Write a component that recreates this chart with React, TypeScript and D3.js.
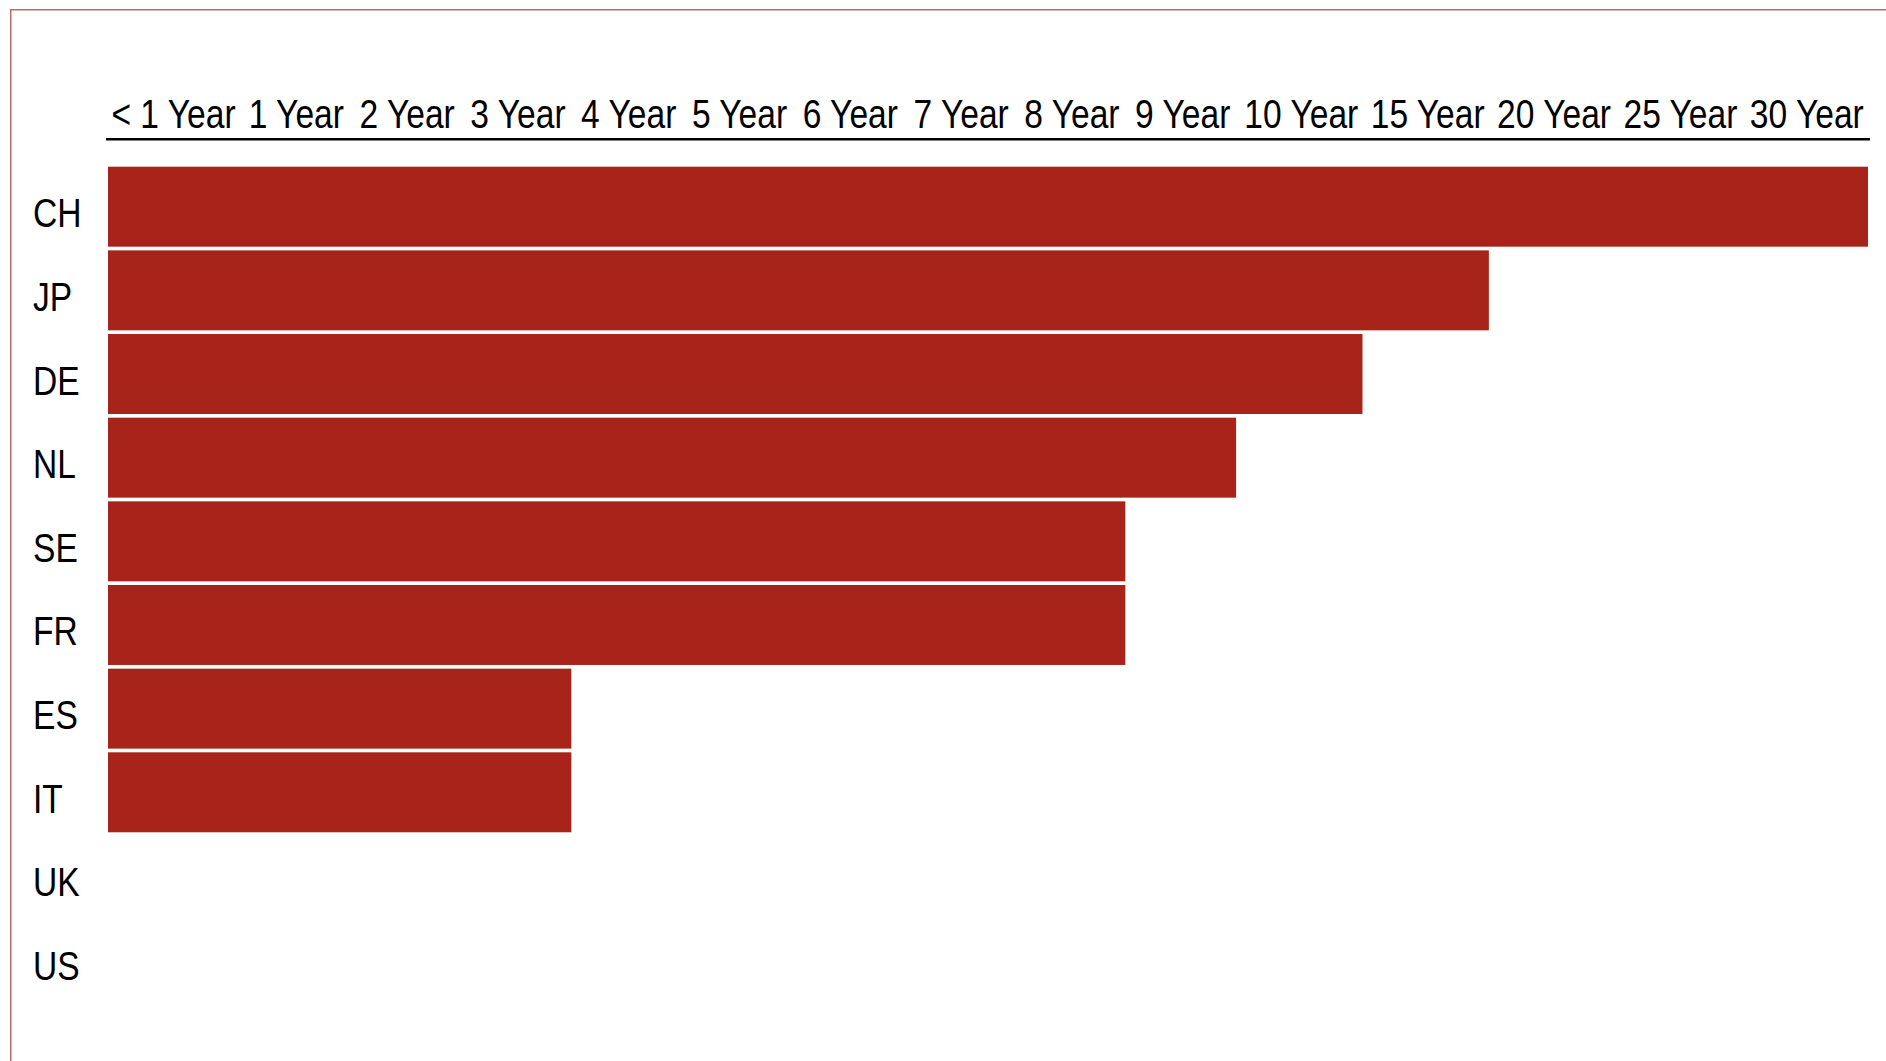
import React, { useMemo } from "react";
import * as d3 from "d3";

const countries = ["CH", "JP", "DE", "NL", "SE", "FR", "ES", "IT", "UK", "US"];
const tenors = [
  "< 1 Year", "1 Year", "2 Year", "3 Year", "4 Year", "5 Year", "6 Year", "7 Year",
  "8 Year", "9 Year", "10 Year", "15 Year", "20 Year", "25 Year", "30 Year",
];
// longest tenor with a negative yield (null = none)
const negativeThrough: (string | null)[] = [
  "30 Year", "15 Year", "10 Year", "9 Year", "8 Year", "8 Year", "3 Year", "3 Year", null, null,
];

const W = 1886;
const H = 1061;
const FONT = '"Liberation Sans", Arial, sans-serif';
const FS = 40;
const SX = 0.84;
const COL_K = 0.834;
const BAR = "#a8231a";

function measure(texts: string[]): number[] {
  const c = document.createElement("canvas").getContext("2d");
  if (!c) return texts.map((t) => t.length * 14);
  c.font = `${FS}px ${FONT}`;
  return texts.map((t) => c.measureText(t).width * SX);
}

export default function App() {
  const left = 106;
  const right = 1870;
  const edges = useMemo(() => {
    const widths = measure(tenors).map((w) => w * COL_K);
    const pad = (right - left - d3.sum(widths)) / tenors.length;
    const e = [left];
    widths.forEach((w) => e.push(e[e.length - 1] + w + pad));
    return e;
  }, []);

  const x = d3.scaleLinear().domain(d3.range(tenors.length + 1)).range(edges);
  const y = d3.scaleBand<string>().domain(countries).range([166.7, 999.6]).paddingInner(0.044);

  return (
    <svg width={W} height={H} style={{ position: "absolute", left: 0, top: 0, background: "#fff" }}
      fontFamily={FONT}>
      <rect x={0} y={0} width={W} height={H} fill="#fff" />
      <rect x={10.75} y={9.75} width={W + 20} height={H + 20} fill="none" stroke="#b76b6b" strokeWidth={1.5} />
      {tenors.map((t, i) => (
        <text key={t} transform={`translate(${(x(i) + x(i + 1)) / 2},128) scale(${SX},1)`}
          textAnchor="middle" fontSize={FS} fill="#000">
          {t}
        </text>
      ))}
      <line x1={left} x2={right} y1={139.2} y2={139.2} stroke="#000" strokeWidth={2.6} />
      {countries.map((c, i) => {
        const t = negativeThrough[i];
        const yy = y(c)!;
        const bw = y.bandwidth();
        return (
          <g key={c}>
            <text transform={`translate(33,${yy + bw / 2 + 20.5}) scale(${SX},1)`} fontSize={FS} fill="#000">
              {c}
            </text>
            {t !== null && (
              <rect x={x(0) + 2} y={yy} width={x(tenors.indexOf(t) + 1) - 2 - (x(0) + 2)} height={bw} fill={BAR} />
            )}
          </g>
        );
      })}
    </svg>
  );
}
